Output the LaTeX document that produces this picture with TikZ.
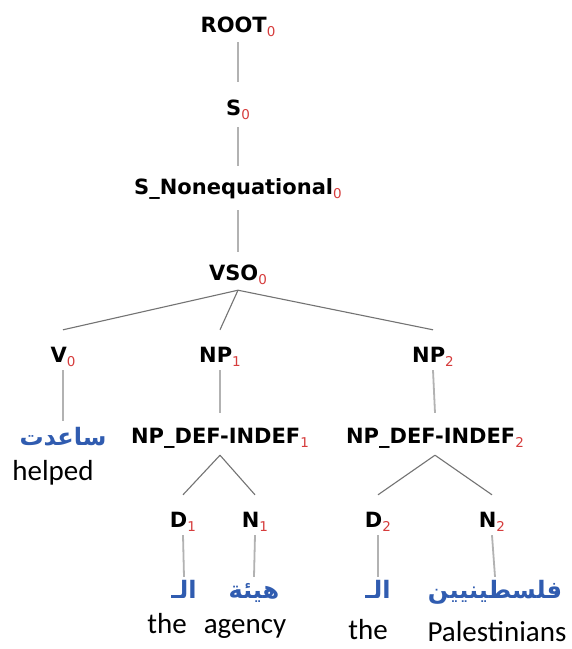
\documentclass[tikz,border=0pt]{standalone}
\usepackage{fontspec}
\usetikzlibrary{calc}
\TeXXeTstate=1
\newfontfamily\labfont{DejaVu Sans}
\newfontfamily\engfont{Carlito}
\newfontfamily\arabicfont[Script=Arabic]{DejaVu Sans}
\definecolor{subred}{RGB}{214,60,60}
\definecolor{arblue}{RGB}{48,92,176}
\definecolor{stemgray}{RGB}{178,178,178}
\definecolor{fangray}{RGB}{115,115,115}
% red index after a category name
\newcommand\idx[1]{\raisebox{-4.5pt}{\fontsize{13.5}{14}\selectfont\mdseries\color{subred}#1}}
\tikzset{
  cat/.style={anchor=base,inner sep=0pt,text height=15pt,text depth=4pt,
    font=\labfont\bfseries\fontsize{21}{25}\selectfont},
  arab/.style={anchor=base,inner sep=0pt,text height=19pt,text depth=6pt,text=arblue,
    font=\arabicfont\bfseries\fontsize{24}{28}\selectfont},
  gloss/.style={anchor=base,inner sep=0pt,font=\engfont\fontsize{29}{33}\selectfont},
  stem/.style={draw=stemgray,line width=1.8pt},
  fan/.style={draw=fangray,line width=1.1pt},
}
\begin{document}
\begin{tikzpicture}[x=1pt,y=-1pt]
\useasboundingbox[fill=white] (0,0) rectangle (572,649);

% category nodes
\node[cat] (root) at (238,32)  {ROOT\idx{0}};
\node[cat] (s)    at (238,115) {S\idx{0}};
\node[cat] (snon) at (238,194) {S\_Nonequational\idx{0}};
\node[cat] (vso)  at (238,280) {VSO\idx{0}};
\node[cat] (v)    at (63,362)  {V\idx{0}};
\node[cat] (np1)  at (220,362) {NP\idx{1}};
\node[cat] (np2)  at (433,362) {NP\idx{2}};
\node[cat] (ndi1) at (220,443) {NP\_DEF-INDEF\idx{1}};
\node[cat] (ndi2) at (435,443) {NP\_DEF-INDEF\idx{2}};
\node[cat] (d1)   at (183,527) {D\idx{1}};
\node[cat] (n1)   at (255,527) {N\idx{1}};
\node[cat] (d2)   at (378,527) {D\idx{2}};
\node[cat] (n2)   at (492,527) {N\idx{2}};

% Arabic words
\node[arab] (sa)  at (63,445)  {\beginR ساعدت\endR};
\node[arab] (al1) at (184,598) {\beginR الـ\endR};
\node[arab] (hy)  at (254,598) {\beginR هيئة\endR};
\node[arab] (al2) at (378,598) {\beginR الـ\endR};
\node[arab] (fl)  at (495,598) {\beginR فلسطينيين\endR};

% English glosses
\node[gloss] (g1) at (53,480)  {helped};
\node[gloss] (g2) at (167,633) {the};
\node[gloss] (g3) at (245,633) {agency};
\node[gloss] (g4) at (368,639) {the};
\node[gloss] (g5) at (497,641) {Palestinians};

% unary branches
\draw[stem] ([yshift=-6pt]root.south) -- ([yshift=18pt]s.north);
\draw[stem] ([yshift=-8pt]s.south)    -- ([yshift=13pt]snon.north);
\draw[stem] ([yshift=-12pt]snon.south) -- ([yshift=13pt]vso.north);
\draw[stem] ([yshift=-4pt]v.south)   -- ([yshift=5pt]sa.north);
\draw[stem] ([yshift=-4pt]np1.south) -- ([yshift=15pt]ndi1.north);
\draw[stem] ([yshift=-4pt]np2.south) -- ([yshift=15pt]ndi2.north);
\draw[stem] ([yshift=-4pt]d1.south)  -- ([yshift=2pt]al1.north);
\draw[stem] ([yshift=-4pt]n1.south)  -- ([yshift=2pt]hy.north);
\draw[stem] ([yshift=-4pt]d2.south)  -- ([yshift=2pt]al2.north);
\draw[stem] ([yshift=-4pt]n2.south)  -- ([yshift=2pt]fl.north);

% branching nodes
\draw[fan] ([yshift=-6pt]vso.south) -- ([yshift=17pt]v.north);
\draw[fan] ([yshift=-6pt]vso.south) -- ([yshift=17pt]np1.north);
\draw[fan] ([yshift=-6pt]vso.south) -- ([yshift=17pt]np2.north);
\draw[fan] ([yshift=-8pt]ndi1.south) -- ([yshift=17pt]d1.north);
\draw[fan] ([yshift=-8pt]ndi1.south) -- ([yshift=17pt]n1.north);
\draw[fan] ([yshift=-8pt]ndi2.south) -- ([yshift=17pt]d2.north);
\draw[fan] ([yshift=-8pt]ndi2.south) -- ([yshift=17pt]n2.north);
\end{tikzpicture}
\end{document}
